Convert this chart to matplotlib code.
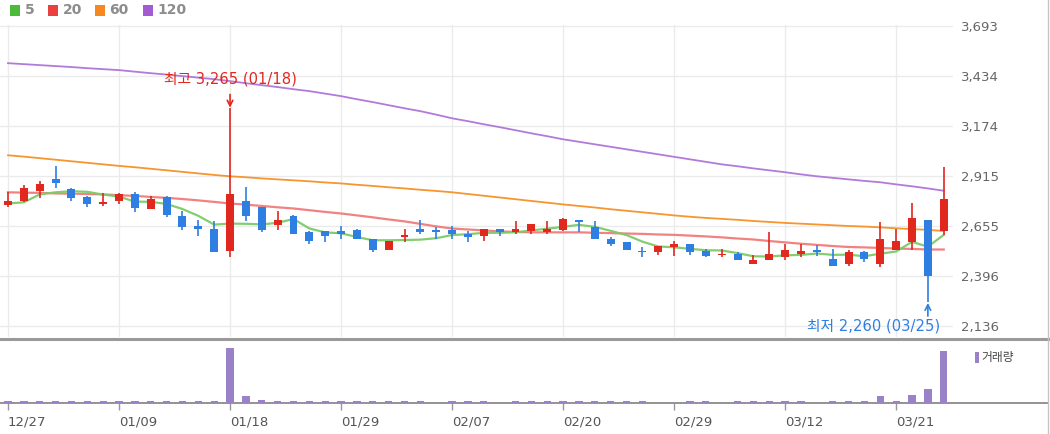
import matplotlib
matplotlib.use('Agg')
import matplotlib.pyplot as plt
import numpy as np
import pandas as pd
from matplotlib.patches import Rectangle
from matplotlib.lines import Line2D

# ---------------- data ----------------
tick_idx = [0, 7, 14, 21, 28, 35, 42, 49, 56]
tick_labels = ['12/27', '01/09', '01/18', '01/29', '02/07', '02/20', '02/29', '03/12', '03/21']

opens = [2762, 2783, 2835, 2897, 2845, 2804, 2767, 2783, 2819, 2741,
         2804, 2705, 2653, 2642, 2523, 2783, 2752, 2658, 2705, 2622,
         2627, 2627, 2632, 2590, 2533, 2596, 2642, 2632, 2632, 2611,
         2601, 2642, 2622, 2627, 2622, 2632, 2684, 2648, 2590, 2570,
         2523, 2518, 2544, 2564, 2523, 2502, 2512, 2460, 2476, 2492,
         2512, 2533, 2486, 2460, 2518, 2460, 2533, 2570, 2684, 2627]
highs = [2830, 2866, 2887, 2965, 2850, 2809, 2824, 2824, 2830, 2809,
         2809, 2731, 2684, 2679, 3265, 2856, 2752, 2731, 2710, 2627,
         2627, 2653, 2637, 2590, 2575, 2642, 2684, 2648, 2653, 2627,
         2642, 2642, 2679, 2663, 2679, 2694, 2684, 2679, 2596, 2570,
         2544, 2549, 2575, 2564, 2538, 2538, 2518, 2502, 2622, 2564,
         2564, 2554, 2538, 2528, 2523, 2674, 2637, 2772, 2684, 2960]
lows = [2752, 2778, 2798, 2850, 2783, 2752, 2757, 2767, 2726, 2741,
        2700, 2632, 2601, 2518, 2492, 2679, 2622, 2632, 2611, 2564,
        2570, 2590, 2585, 2518, 2533, 2570, 2611, 2585, 2590, 2570,
        2575, 2601, 2611, 2611, 2616, 2627, 2622, 2585, 2549, 2533,
        2492, 2502, 2497, 2507, 2492, 2492, 2481, 2460, 2476, 2481,
        2492, 2497, 2445, 2445, 2466, 2440, 2528, 2528, 2260, 2606]
closes = [2783, 2850, 2871, 2876, 2798, 2767, 2778, 2819, 2746, 2793,
          2710, 2648, 2642, 2518, 2819, 2705, 2632, 2684, 2616, 2575,
          2601, 2611, 2585, 2533, 2575, 2606, 2622, 2622, 2616, 2596,
          2642, 2622, 2637, 2663, 2642, 2689, 2674, 2585, 2559, 2533,
          2518, 2549, 2564, 2518, 2497, 2512, 2481, 2481, 2512, 2528,
          2523, 2518, 2445, 2518, 2486, 2590, 2575, 2694, 2393, 2793]
volumes = [36, 36, 36, 36, 36, 36, 36, 36, 36, 36,
           36, 36, 36, 36, 1000, 122, 60, 36, 36, 36,
           36, 36, 36, 36, 36, 36, 36, 5, 36, 36,
           36, 5, 36, 36, 36, 36, 36, 36, 36, 36,
           36, 5, 5, 36, 36, 5, 36, 36, 36, 36,
           36, 5, 36, 36, 36, 122, 36, 151, 260, 940]

ma5_head = [2772, 2778, 2819, 2830]
ma20 = [2830, 2828, 2827, 2824, 2823, 2821, 2819, 2815, 2811, 2806,
        2801, 2795, 2788, 2780, 2772, 2766, 2759, 2752, 2746, 2737,
        2728, 2720, 2710, 2700, 2689, 2679, 2666, 2653, 2642, 2637,
        2632, 2627, 2624, 2622, 2622, 2622, 2622, 2620, 2618, 2616,
        2614, 2611, 2609, 2605, 2601, 2596, 2590, 2585, 2577, 2570,
        2563, 2557, 2551, 2546, 2544, 2541, 2538, 2536, 2533, 2533]
ma60 = [3022, 3015, 3007, 2999, 2991, 2983, 2975, 2967, 2960, 2952,
        2944, 2936, 2928, 2920, 2913, 2908, 2902, 2897, 2892, 2887,
        2881, 2876, 2869, 2863, 2856, 2850, 2843, 2837, 2830, 2821,
        2812, 2803, 2794, 2785, 2776, 2767, 2759, 2751, 2742, 2734,
        2726, 2718, 2710, 2703, 2697, 2692, 2687, 2681, 2676, 2671,
        2667, 2663, 2659, 2655, 2652, 2648, 2643, 2639, 2635, 2629]
ma120 = [3500, 3495, 3490, 3485, 3480, 3474, 3469, 3464, 3456, 3448,
         3441, 3433, 3425, 3417, 3407, 3396, 3386, 3376, 3365, 3355,
         3342, 3329, 3313, 3298, 3282, 3266, 3251, 3233, 3214, 3199,
         3183, 3168, 3152, 3136, 3121, 3105, 3092, 3079, 3066, 3053,
         3040, 3027, 3014, 3001, 2988, 2975, 2965, 2954, 2944, 2934,
         2923, 2913, 2905, 2897, 2889, 2882, 2871, 2861, 2850, 2838]

price_ticks = [2136, 2396, 2655, 2915, 3174, 3434, 3693]

ma5 = pd.Series(closes, dtype=float).rolling(5).mean().to_numpy()
ma5[:4] = ma5_head

# ---------------- layout ----------------
W, H = 1050, 434
fig = plt.figure(figsize=(10.5, 4.34), dpi=100)


def fx(px):
    return px / W


def fy(py):
    return 1 - py / H


PX = 15.86   # pixels per candle
X0 = 8       # pixel position of first candle
PPX = 5.19   # price units per pixel

ax = fig.add_axes([0, fy(337), fx(953), (337 - 25) / H])
axv = fig.add_axes([0, fy(403), fx(1048), (403 - 339) / H])

n = len(closes)
x = np.arange(n)
ax.set_xlim(-X0 / PX, (953 - X0) / PX)
axv.set_xlim(-X0 / PX, (1048 - X0) / PX)
ax.set_ylim(3693 - (337 - 26) * PPX, 3693 + PPX)

UP, DOWN = '#e0281f', '#2f7fe3'
grid_c = '#ebebeb'

# grid
ax.set_xticks(tick_idx)
ax.tick_params(axis='x', length=0, labelbottom=False)
ax.grid(True, color=grid_c, lw=1)
ax.set_axisbelow(True)
for s in ax.spines.values():
    s.set_visible(False)
ax.yaxis.tick_right()
ax.set_yticks(price_ticks)
ax.set_yticklabels([f'{v:,}' for v in price_ticks])
ax.tick_params(axis='y', length=0, pad=6, labelsize=9.5, labelcolor='#666666')

# moving averages
ax.plot(x, ma120, color='#b27ad9', lw=1.3, zorder=2)
ax.plot(x, ma60, color='#f7952f', lw=1.3, zorder=2)
ax.plot(x, ma20, color='#f07575', lw=1.6, alpha=0.9, zorder=2)
ax.plot(x, ma5, color='#7ccb69', lw=1.6, alpha=0.95, zorder=2)

# candles
o = np.array(opens, float)
c = np.array(closes, float)
h = np.array(highs, float)
l = np.array(lows, float)
cols = [UP if cc >= oo else DOWN for oo, cc in zip(o, c)]
ax.vlines(x, l, h, colors=cols, lw=1.2, zorder=3)
body_bottom = np.minimum(o, c)
body_h = np.maximum(np.abs(c - o), 7)
ax.bar(x, body_h, bottom=body_bottom, width=0.5, color=cols, zorder=4, lw=0)

# annotations
hi_i = int(np.argmax(h))
lo_i = int(np.argmin(l))
kfont = ['DejaVu Sans', 'Noto Sans CJK KR']
ax.text(hi_i, 3693 - (79 - 26) * PPX, f'최고 {highs[hi_i]:,} ({tick_labels[2]})',
        ha='center', va='center', color=UP, fontsize=10.6, family=kfont, zorder=6)
ax.annotate('', xy=(hi_i, highs[hi_i] + 4), xytext=(hi_i, highs[hi_i] + 14 * PPX),
            arrowprops=dict(arrowstyle='->', color=UP, lw=1.2, shrinkA=0, shrinkB=0), zorder=6)
ax.text(lo_i + 0.75, 3693 - (326 - 26) * PPX, f'최저 {lows[lo_i]:,} (03/25)',
        ha='right', va='center', color=DOWN, fontsize=10.6, family=kfont, zorder=6)
ax.annotate('', xy=(lo_i, lows[lo_i] - 4), xytext=(lo_i, lows[lo_i] - 14 * PPX),
            arrowprops=dict(arrowstyle='->', color=DOWN, lw=1.2, shrinkA=0, shrinkB=0), zorder=6)

# volume panel
axv.bar(x, volumes, width=0.46, color='#9a82c8', zorder=3)
axv.set_ylim(0, max(volumes) * 64 / 55)
axv.set_yticks([])
axv.set_xticks(tick_idx)
axv.set_xticklabels(tick_labels)
for t in axv.get_xticklabels():
    t.set_horizontalalignment('left')
axv.tick_params(axis='x', length=5, width=1, color='#999999', pad=4,
                labelsize=9.5, labelcolor='#555555')
axv.spines['left'].set_visible(False)
axv.spines['right'].set_visible(False)
axv.spines['top'].set_color('#9a9a9a')
axv.spines['top'].set_linewidth(2.2)
axv.spines['bottom'].set_color('#8a8a8a')
axv.spines['bottom'].set_linewidth(1.3)

fig.add_artist(Rectangle((fx(975), fy(363)), fx(4), (363 - 352) / H,
                         transform=fig.transFigure, color='#9a82c8', lw=0))
fig.text(fx(981), fy(357.5), '거래량', ha='left', va='center', fontsize=8.5,
         color='#444444', family=['Noto Sans CJK KR', 'DejaVu Sans'])

# right frame line
fig.add_artist(Line2D([fx(1047.5)] * 2, [0, 1], transform=fig.transFigure,
                      color='#c4c4c4', lw=1))

# legend
leg = [('5', '#4cbb3a', 10, 25), ('20', '#e8413f', 48, 63),
       ('60', '#f7871f', 95, 109), ('120', '#a25bd2', 143, 157)]
for lab, col, sx, tx in leg:
    fig.add_artist(Rectangle((fx(sx), fy(15.5)), fx(10), 10 / H,
                             transform=fig.transFigure, color=col, lw=0))
    fig.text(fx(tx), fy(10.5), lab, ha='left', va='center', fontsize=10,
             fontweight='bold', color='#8c8c8c')

fig.savefig('out.png', dpi=100)
